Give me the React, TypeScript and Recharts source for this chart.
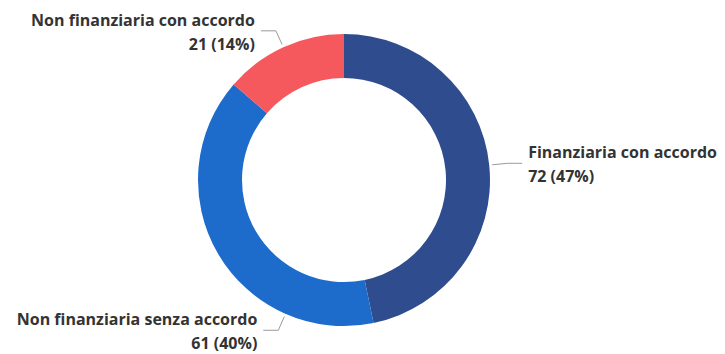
import { PieChart, Pie, Cell } from 'recharts';

const categories = ['Finanziaria con accordo', 'Non finanziaria senza accordo', 'Non finanziaria con accordo'];
const counts = [72, 61, 21];
const colors = ['#2F4D8E', '#1D6BCB', '#F5585D'];

// Power BI pushes the bottom label round towards the bottom edge
const labelAngleShift = [0, 36, 0];

const data = categories.map((name, i) => ({ name, value: counts[i] }));

const WIDTH = 725;
const HEIGHT = 354;
const RADIAN = Math.PI / 180;

function renderLabel(props: any) {
  const { cx, cy, midAngle, outerRadius, index, value, percent, name } = props;
  const angle = (midAngle + labelAngleShift[index]) * RADIAN;
  const cos = Math.cos(-angle);
  const sin = Math.sin(-angle);
  const x0 = cx + (outerRadius + 3) * cos;
  const y0 = cy + (outerRadius + 3) * sin;
  const x1 = cx + (outerRadius + 18) * cos;
  const y1 = cy + (outerRadius + 18) * sin;
  const right = cos >= 0;
  const x2 = x1 + (right ? 15 : -15);
  const tx = x2 + (right ? 6 : -6);
  let line2 = y1 + 13;
  if (line2 > HEIGHT - 9) line2 = HEIGHT - 9;
  const line1 = line2 - 24;
  const anchor = right ? 'start' : 'end';
  return (
    <g key={`lbl-${index}`}>
      <polyline
        points={`${x0},${y0} ${x1},${y1} ${x2},${y1}`}
        fill="none"
        stroke="#9a9a9a"
        strokeWidth={1}
      />
      <text x={tx} y={line1} textAnchor={anchor} dominantBaseline="central" fill="#333" fontSize={16} fontWeight={700}>
        {name}
      </text>
      <text x={tx} y={line2} textAnchor={anchor} dominantBaseline="central" fill="#333" fontSize={16} fontWeight={700}>
        {`${value} (${Math.round(percent * 100)}%)`}
      </text>
    </g>
  );
}

export default function App() {
  return (
    <div style={{ position: 'absolute', left: 0, top: 0, width: WIDTH, height: HEIGHT, background: '#fff', fontFamily: '"Open Sans", sans-serif' }}>
      <PieChart width={WIDTH} height={HEIGHT} margin={{ top: 0, right: 0, bottom: 0, left: 0 }}>
        <Pie
          data={data}
          dataKey="value"
          nameKey="name"
          cx={344}
          cy={180}
          innerRadius={102}
          outerRadius={146}
          startAngle={90}
          endAngle={-270}
          stroke="none"
          labelLine={false}
          label={renderLabel}
          isAnimationActive={false}
        >
          {data.map((d, i) => (
            <Cell key={d.name} fill={colors[i]} />
          ))}
        </Pie>
      </PieChart>
    </div>
  );
}
